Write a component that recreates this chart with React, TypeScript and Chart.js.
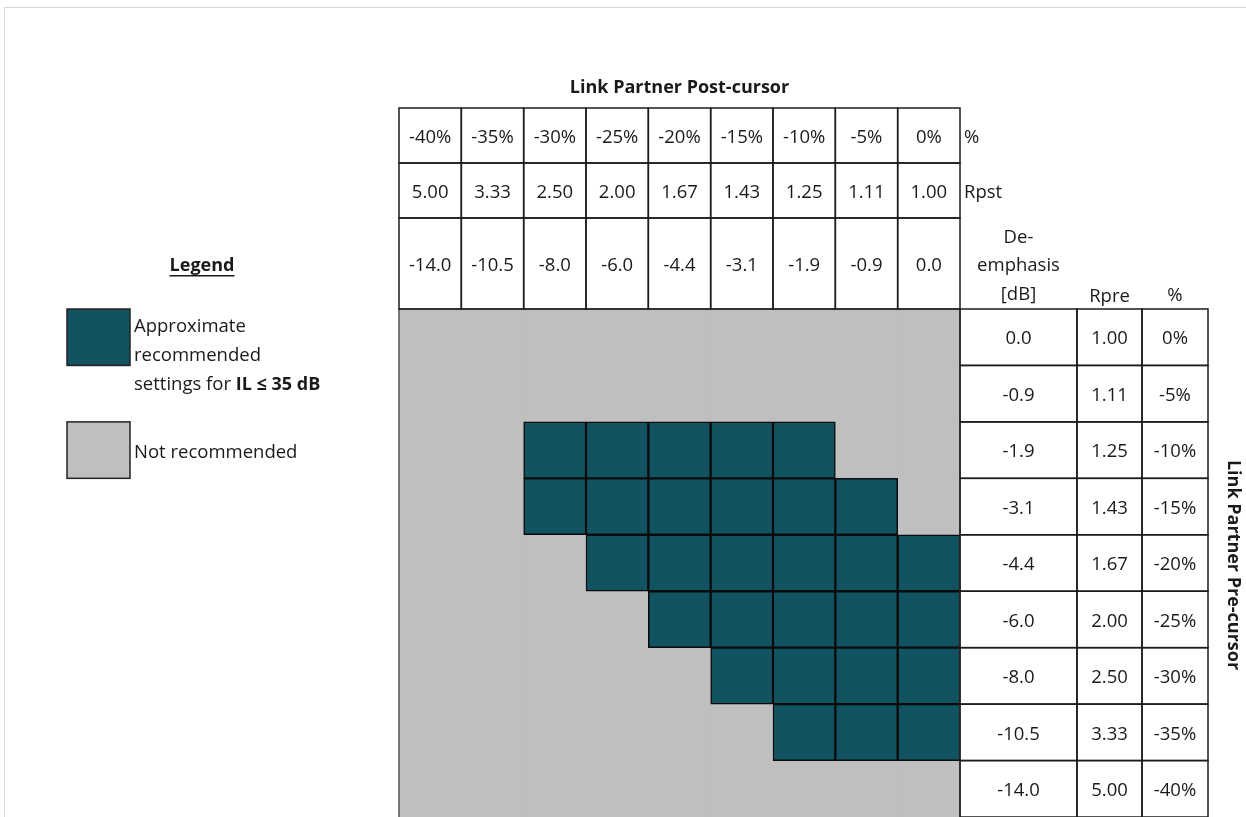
import { useEffect, useRef } from 'react';
import { Chart, registerables } from 'chart.js';

Chart.register(...registerables);

// ---- Data ----
const postPercent = ['-40%', '-35%', '-30%', '-25%', '-20%', '-15%', '-10%', '-5%', '0%'];
const postRpst = ['5.00', '3.33', '2.50', '2.00', '1.67', '1.43', '1.25', '1.11', '1.00'];
const postDeEmphasis = ['-14.0', '-10.5', '-8.0', '-6.0', '-4.4', '-3.1', '-1.9', '-0.9', '0.0'];

const prePercent = ['0%', '-5%', '-10%', '-15%', '-20%', '-25%', '-30%', '-35%', '-40%'];
const preRpre = ['1.00', '1.11', '1.25', '1.43', '1.67', '2.00', '2.50', '3.33', '5.00'];
const preDeEmphasis = ['0.0', '-0.9', '-1.9', '-3.1', '-4.4', '-6.0', '-8.0', '-10.5', '-14.0'];

// rows = pre-cursor (0% .. -40%), columns = post-cursor (-40% .. 0%)
const recommendedCells: number[][] = [
  [0, 0, 0, 0, 0, 0, 0, 0, 0],
  [0, 0, 0, 0, 0, 0, 0, 0, 0],
  [0, 0, 1, 1, 1, 1, 1, 0, 0],
  [0, 0, 1, 1, 1, 1, 1, 1, 0],
  [0, 0, 0, 1, 1, 1, 1, 1, 1],
  [0, 0, 0, 0, 1, 1, 1, 1, 1],
  [0, 0, 0, 0, 0, 1, 1, 1, 1],
  [0, 0, 0, 0, 0, 0, 1, 1, 1],
  [0, 0, 0, 0, 0, 0, 0, 0, 0],
];

const xTitle = 'Link Partner Post-cursor';
const yTitle = 'Link Partner Pre-cursor';
const legendTitle = 'Legend';
const legendRecommended = ['Approximate', 'recommended'];
const legendRecommendedLast = ['settings for ', 'IL ≤ 35 dB'];
const legendNot = 'Not recommended';

// ---- Styles ----
const TEAL = '#115361';
const GRAY = '#BFBFBF';
const LINE = '#1c1c1c';
const FONT = '"Open Sans", sans-serif';
const TEXT = '#1a1a1a';
const REG = `18.5px ${FONT}`;
const BOLD = `bold 18px ${FONT}`;

const tablePlugin = {
  id: 'tablePlugin',
  afterDraw(chart: any) {
    const ctx: CanvasRenderingContext2D = chart.ctx;
    const x = chart.scales.x;
    const y = chart.scales.y;
    const area = chart.chartArea;
    const cw = x.getPixelForValue(1) - x.getPixelForValue(0);
    const H = chart.height;

    ctx.save();
    // page frame
    ctx.strokeStyle = '#d6d6d6';
    ctx.lineWidth = 1;
    ctx.beginPath();
    ctx.moveTo(4.5, H);
    ctx.lineTo(4.5, 7.5);
    ctx.lineTo(chart.width, 7.5);
    ctx.stroke();

    // gray area outline
    ctx.strokeStyle = '#555';
    ctx.lineWidth = 1.5;
    ctx.beginPath();
    ctx.moveTo(area.left, H);
    ctx.lineTo(area.left, area.top);
    ctx.lineTo(area.right, area.top);
    ctx.lineTo(area.right, H);
    ctx.stroke();

    ctx.fillStyle = TEXT;
    ctx.textBaseline = 'middle';

    // ---- top header table ----
    const rowsY = [108, 163, 218, area.top];
    const rowsText = [postPercent, postRpst, postDeEmphasis];
    ctx.strokeStyle = LINE;
    ctx.lineWidth = 1.5;
    ctx.font = REG;
    ctx.textAlign = 'center';
    for (let r = 0; r < 3; r++) {
      for (let c = 0; c < postPercent.length; c++) {
        const cx = x.getPixelForValue(c);
        const l = cx - cw / 2;
        ctx.strokeRect(l, rowsY[r], cw, rowsY[r + 1] - rowsY[r]);
        ctx.fillText(rowsText[r][c], cx, (rowsY[r] + rowsY[r + 1]) / 2 + 2);
      }
    }

    // ---- right table ----
    const colW = [117, 65, 66];
    const colsText = [preDeEmphasis, preRpre, prePercent];
    let cl = area.right;
    for (let k = 0; k < 3; k++) {
      for (let r = 0; r < prePercent.length; r++) {
        const t = y.getPixelForValue(r);
        const b = y.getPixelForValue(r + 1);
        ctx.strokeRect(cl, t, colW[k], b - t);
        ctx.fillText(colsText[k][r], cl + colW[k] / 2, (t + b) / 2 + 2);
      }
      cl += colW[k];
    }

    // header labels
    ctx.textAlign = 'left';
    ctx.fillText('%', area.right + 4, 138);
    ctx.fillText('Rpst', area.right + 4, 193);
    ctx.textAlign = 'center';
    const c0 = area.right + colW[0] / 2;
    ctx.fillText('De-', c0, 238);
    ctx.fillText('emphasis', c0, 266);
    ctx.fillText('[dB]', c0, 295);
    ctx.fillText('Rpre', area.right + colW[0] + colW[1] / 2, 297);
    ctx.fillText('%', area.right + colW[0] + colW[1] + colW[2] / 2, 296);

    // titles
    ctx.font = BOLD;
    ctx.fillText(xTitle, (area.left + area.right) / 2, 88);
    ctx.save();
    ctx.translate(1233, (area.top + H) / 2 + 2);
    ctx.rotate(Math.PI / 2);
    ctx.fillText(yTitle, 0, 0);
    ctx.restore();

    // ---- legend ----
    ctx.font = BOLD;
    ctx.textAlign = 'center';
    ctx.fillText(legendTitle, 202, 266);
    const lw = ctx.measureText(legendTitle).width;
    ctx.fillRect(202 - lw / 2, 275, lw, 1.5);

    const boxL = 67;
    const boxW = 63;
    const r0t = y.getPixelForValue(0);
    const r1t = y.getPixelForValue(1);
    const r2t = y.getPixelForValue(2);
    const r3t = y.getPixelForValue(3);
    ctx.fillStyle = TEAL;
    ctx.fillRect(boxL, r0t, boxW, r1t - r0t);
    ctx.strokeStyle = '#222';
    ctx.strokeRect(boxL, r0t, boxW, r1t - r0t);
    ctx.fillStyle = GRAY;
    ctx.fillRect(boxL, r2t, boxW, r3t - r2t);
    ctx.strokeRect(boxL, r2t, boxW, r3t - r2t);

    ctx.fillStyle = TEXT;
    ctx.textAlign = 'left';
    ctx.font = REG;
    ctx.fillText(legendRecommended[0], 134, 327);
    ctx.fillText(legendRecommended[1], 134, 356);
    ctx.fillText(legendRecommendedLast[0], 134, 385);
    const sw = ctx.measureText(legendRecommendedLast[0]).width;
    ctx.font = BOLD;
    ctx.fillText(legendRecommendedLast[1], 134 + sw, 385);
    ctx.font = REG;
    ctx.fillText(legendNot, 134, 453);

    ctx.restore();
  },
};

export default function App() {
  const ref = useRef<HTMLCanvasElement | null>(null);

  useEffect(() => {
    if (!ref.current) return;
    const datasets: any[] = [];
    recommendedCells.forEach((row, r) => {
      datasets.push({
        label: `pre ${prePercent[r]}`,
        data: row.map((v) => (v ? [r, r + 1] : null)),
        backgroundColor: TEAL,
        borderColor: '#0b0b0b',
        borderWidth: 1.5,
        borderSkipped: false,
        grouped: false,
        barPercentage: 1,
        categoryPercentage: 1,
        order: 1,
      });
    });
    datasets.push({
      label: 'Not recommended',
      data: postPercent.map(() => [0, prePercent.length]),
      backgroundColor: GRAY,
      borderWidth: 0,
      grouped: false,
      barPercentage: 1,
      categoryPercentage: 1,
      order: 10,
    });

    const chart = new Chart(ref.current, {
      type: 'bar',
      data: { labels: postPercent, datasets },
      options: {
        responsive: false,
        animation: false,
        devicePixelRatio: 1,
        layout: { padding: { left: 399, top: 309, right: 286, bottom: 0 } },
        plugins: { legend: { display: false }, tooltip: { enabled: false } },
        scales: {
          x: { type: 'category', display: false, offset: true },
          y: { type: 'linear', display: false, min: 0, max: prePercent.length, reverse: true },
        },
      } as any,
      plugins: [tablePlugin],
    });
    return () => chart.destroy();
  }, []);

  return (
    <div style={{ position: 'fixed', left: 0, top: 0, width: 1246, height: 817, background: '#fff' }}>
      <canvas ref={ref} width={1246} height={817} style={{ display: 'block' }} />
    </div>
  );
}
